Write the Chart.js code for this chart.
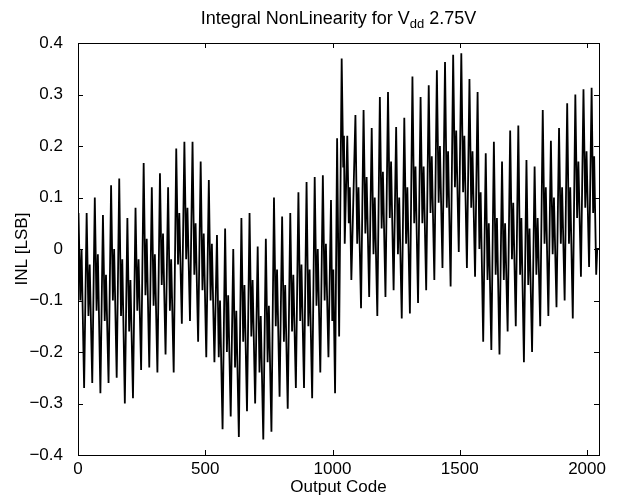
<!DOCTYPE html>
<html>
<head>
<meta charset="utf-8">
<script src="https://cdn.jsdelivr.net/npm/chart.js@4.4.0/dist/chart.umd.min.js"></script>
<style>
  html,body{margin:0;padding:0;background:#fff;}
  #c{display:block;}
</style>
</head>
<body>
<canvas id="c" width="618" height="501"></canvas>
<script>
// Output codes of the local extrema (peak, dip, bump, trough per 32-code cycle)
const codes = [
  2,9,14,24, 34,41,46,56, 66,73,78,88, 98,105,110,120,
  130,137,142,152, 162,169,174,184, 194,201,206,216, 226,233,238,248,
  258,265,270,280, 290,297,302,312, 322,329,334,344, 354,361,366,376,
  386,393,398,408, 418,425,430,440, 450,457,462,472, 482,489,494,504,
  514,521,526,536, 546,553,558,568, 578,585,590,600, 610,617,622,632,
  642,649,654,664, 674,681,686,696, 706,713,718,728, 738,745,750,760,
  770,777,782,792, 802,809,814,824, 834,841,846,856, 866,873,878,888,
  898,905,910,920, 930,937,942,952, 962,969,974,984, 994,999,1003,1010,
  1018,1026, 1036,1042,1045,1048, 1058,1064,1068,1074,
  1090,1097,1102,1112, 1122,1129,1134,1144, 1154,1161,1166,1176, 1186,1193,1198,1208,
  1218,1225,1230,1240, 1250,1257,1262,1272, 1282,1289,1294,1304, 1314,1321,1326,1336,
  1346,1353,1358,1368, 1378,1385,1390,1400, 1410,1417,1422,1432, 1442,1449,1454,1464,
  1474,1481,1486,1496, 1506,1513,1518,1528, 1538,1545,1550,1560, 1570,1577,1582,1592,
  1602,1609,1614,1624, 1634,1641,1646,1656, 1666,1673,1678,1688, 1698,1705,1710,1720,
  1730,1737,1742,1752, 1762,1769,1774,1784, 1794,1801,1806,1816, 1826,1833,1838,1848,
  1858,1865,1870,1880, 1890,1897,1902,1912, 1922,1929,1934,1944, 1954,1961,1966,1976,
  1986,1993,1998,2008, 2018,2024,2028,2036, 2040,2047
];
// INL [LSB] at those codes
const inl = [
  0.07,-0.10,0.00,-0.27, 0.07,-0.13,-0.03,-0.26, 0.10,-0.12,-0.01,-0.28, 0.066,-0.14,-0.05,-0.26,
  0.124,-0.10,0.00,-0.25, 0.137,-0.13,-0.02,-0.30, 0.06,-0.16,-0.06,-0.29, 0.08,-0.12,-0.02,-0.235,
  0.167,-0.09,0.02,-0.23, 0.12,-0.11,-0.01,-0.24, 0.147,-0.07,0.03,-0.205, 0.12,-0.12,-0.02,-0.24,
  0.195,-0.03,0.07,-0.145, 0.208,-0.02,0.08,-0.14, 0.208,-0.05,0.05,-0.18, 0.17,-0.08,0.03,-0.21,
  0.134,-0.10,0.01,-0.22, 0.027,-0.21,-0.10,-0.35, 0.04,-0.20,-0.09,-0.325, 0.0,-0.23,-0.12,-0.365,
  0.06,-0.18,-0.07,-0.315, 0.07,-0.17,-0.06,-0.30, 0.005,-0.24,-0.13,-0.37, 0.02,-0.22,-0.11,-0.355,
  0.10,-0.15,-0.04,-0.287, 0.063,-0.18,-0.07,-0.31, 0.07,-0.16,-0.05,-0.27, 0.11,-0.14,-0.03,-0.27,
  0.13,-0.15,-0.04,-0.29, 0.14,-0.11,0.00,-0.24, 0.143,-0.10,0.01,-0.21, 0.095,-0.14,-0.04,-0.28,
  0.215,-0.17, 0.37,0.16,0.22,0.01, 0.22,0.05,0.12,-0.06,
  0.26,0.01,0.12,-0.115, 0.27,0.03,0.14,-0.093, 0.235,-0.01,0.10,-0.13, 0.295,0.04,0.15,-0.093,
  0.305,0.06,0.17,-0.08, 0.237,-0.01,0.10,-0.135, 0.255,0.01,0.12,-0.125, 0.335,0.05,0.16,-0.105,
  0.295,0.05,0.16,-0.08, 0.318,0.07,0.18,-0.06, 0.347,0.09,0.20,-0.037, 0.363,0.08,0.19,-0.073,
  0.377,0.12,0.23,-0.006, 0.38,0.11,0.22,-0.037, 0.33,0.08,0.19,-0.054, 0.305,0.00,0.11,-0.18,
  0.186,-0.06,0.05,-0.196, 0.208,-0.05,0.06,-0.205, 0.17,-0.06,0.05,-0.16, 0.23,-0.02,0.09,-0.15,
  0.24,-0.05,0.06,-0.22, 0.173,-0.07,0.04,-0.20, 0.16,-0.05,0.06,-0.15, 0.27,0.01,0.12,-0.13,
  0.21,-0.01,0.10,-0.113, 0.235,0.01,0.12,-0.10, 0.283,0.01,0.12,-0.135, 0.30,0.06,0.17,-0.054,
  0.31,0.08,0.19,-0.035, 0.313,0.07,0.18,-0.05, 0.0,0.0
];
const xTickValues = [0, 500, 1000, 1500, 2000];
const yTickValues = [-0.4, -0.3, -0.2, -0.1, 0, 0.1, 0.2, 0.3, 0.4];
const titleMain = "Integral NonLinearity for V";
const titleSub = "dd";
const titleTail = " 2.75V";
const xTitle = "Output Code";
const yTitle = "INL [LSB]";

const FONT = "'Liberation Sans', Arial, Helvetica, sans-serif";

const points = codes.map((c, i) => ({x: c, y: inl[i]}));

function fmtY(v) {
  const r = Math.round(v * 10) / 10;
  if (r === 0) return "0";
  const s = Math.abs(r).toFixed(1);
  return (r < 0 ? "\u2212" : "") + s;
}

const framePlugin = {
  id: 'frame',
  afterDraw(chart) {
    const {ctx, chartArea: a, scales} = chart;
    ctx.save();
    ctx.strokeStyle = '#000';
    ctx.lineWidth = 1;
    ctx.strokeRect(Math.round(a.left) + 0.5, Math.round(a.top) + 0.5,
                   Math.round(a.right - a.left), Math.round(a.bottom - a.top));
    const tl = 5;
    ctx.beginPath();
    xTickValues.forEach(v => {
      const px = Math.round(scales.x.getPixelForValue(v)) + 0.5;
      ctx.moveTo(px, a.bottom); ctx.lineTo(px, a.bottom - tl);
      ctx.moveTo(px, a.top); ctx.lineTo(px, a.top + tl);
    });
    yTickValues.forEach(v => {
      const py = Math.round(scales.y.getPixelForValue(v)) + 0.5;
      ctx.moveTo(a.left, py); ctx.lineTo(a.left + tl, py);
      ctx.moveTo(a.right, py); ctx.lineTo(a.right - tl, py);
    });
    ctx.stroke();
    // title with subscript
    const cx = (a.left + a.right) / 2;
    const fMain = "18px " + FONT;
    const fSub = "13px " + FONT;
    ctx.font = fMain;
    const w1 = ctx.measureText(titleMain).width;
    const w3 = ctx.measureText(titleTail).width;
    ctx.font = fSub;
    const w2 = ctx.measureText(titleSub).width;
    const total = w1 + w2 + w3;
    const x0 = cx - total / 2;
    const base = 24;
    ctx.fillStyle = '#000';
    ctx.textBaseline = 'alphabetic';
    ctx.textAlign = 'left';
    ctx.font = fMain;
    ctx.fillText(titleMain, x0, base);
    ctx.font = fSub;
    ctx.fillText(titleSub, x0 + w1, base + 4);
    ctx.font = fMain;
    ctx.fillText(titleTail, x0 + w1 + w2, base);
    ctx.restore();
  }
};

new Chart(document.getElementById('c'), {
  type: 'scatter',
  data: {
    datasets: [{
      data: points,
      showLine: true,
      borderColor: '#000',
      borderWidth: 1.8,
      pointRadius: 0,
      pointHoverRadius: 0,
      tension: 0,
      fill: false
    }]
  },
  options: {
    responsive: false,
    animation: false,
    devicePixelRatio: 1,
    layout: {padding: {left: 0, top: 43, right: 19, bottom: 0}},
    plugins: {
      legend: {display: false},
      tooltip: {enabled: false},
      title: {display: false}
    },
    scales: {
      x: {
        type: 'linear',
        min: 0, max: 2047,
        grid: {display: false, drawTicks: false},
        border: {display: false},
        afterFit(s) { s.height = 46; },
        afterBuildTicks(s) { s.ticks = xTickValues.map(v => ({value: v})); },
        ticks: {
          padding: 4,
          color: '#000',
          font: {family: FONT, size: 17},
          maxRotation: 0,
          callback: v => String(v)
        },
        title: {
          display: true, text: xTitle, color: '#000',
          font: {family: FONT, size: 17},
          padding: {top: 0, bottom: 3}
        }
      },
      y: {
        type: 'linear',
        min: -0.4, max: 0.4,
        grid: {display: false, drawTicks: false},
        border: {display: false},
        afterFit(s) { s.width = 78; },
        afterBuildTicks(s) { s.ticks = yTickValues.map(v => ({value: v})); },
        ticks: {
          padding: 15,
          color: '#000',
          font: {family: FONT, size: 17},
          callback: v => fmtY(v)
        },
        title: {
          display: true, text: yTitle, color: '#000',
          font: {family: FONT, size: 17},
          padding: {top: 12, bottom: 0}
        }
      }
    }
  },
  plugins: [framePlugin]
});
</script>
</body>
</html>
